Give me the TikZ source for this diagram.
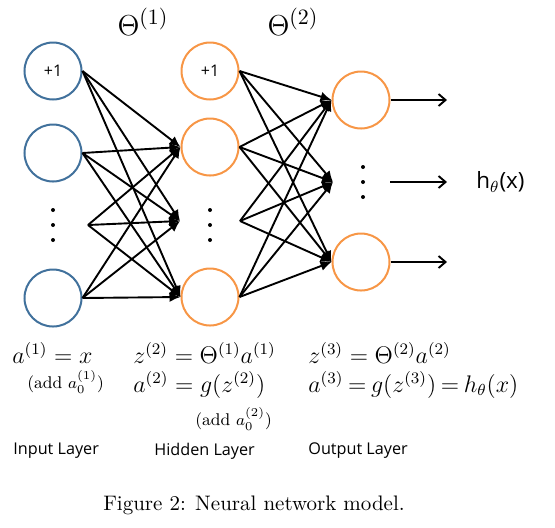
\documentclass[tikz,border=0pt]{standalone}
\usepackage{fontspec}
\newfontfamily\labfont{Open Sans}
\usetikzlibrary{arrows.meta}
\definecolor{inblue}{RGB}{65,113,156}
\definecolor{hidorange}{RGB}{247,150,70}
\tikzset{
  neuron/.style={circle,draw,line width=1pt,minimum size=28.5pt,inner sep=0pt,font=\labfont\fontsize{8}{9}\selectfont},
  inneuron/.style={neuron,draw=inblue},
  hidneuron/.style={neuron,draw=hidorange},
  wedge/.style={line width=0.95pt,-{Latex[length=5.5pt,width=5pt]}},
  outarrow/.style={line width=0.95pt,-{Straight Barb[length=3.5pt,width=6pt]}},
  dotmark/.style={fill=black},
  eqn/.style={anchor=west,inner sep=0pt,font=\fontsize{11.7}{14}\selectfont},
  small/.style={anchor=west,inner sep=0pt,font=\fontsize{8.5}{10}\selectfont},
  layerlab/.style={anchor=west,inner sep=0pt,font=\labfont\fontsize{8.1}{10}\selectfont},
  thetalab/.style={inner sep=0pt,font=\fontsize{15}{18}\selectfont}
}
\begin{document}
\begin{tikzpicture}[x=0.5pt,y=-0.5pt]
\useasboundingbox (0,0) rectangle (555,527);
% input layer
\node[inneuron] (in1) at (53,71) {+1};
\node[inneuron] (in2) at (53,153) {};
\node[inneuron] (in3) at (53,298) {};
\coordinate (indots) at (88,225);
\foreach \y in {210,225,240} \fill[dotmark] (53,\y) circle (2);
% hidden layer
\node[hidneuron] (h1) at (210,71) {+1};
\node[hidneuron] (h2) at (210,147) {};
\node[hidneuron] (h3) at (210,297) {};
\coordinate (hdotsL) at (180,221);
\coordinate (hdotsR) at (240,221);
\foreach \y in {210,225,240} \fill[dotmark] (210,\y) circle (2);
% output layer
\node[hidneuron] (o1) at (361,100) {};
\node[hidneuron] (o3) at (361,262) {};
\coordinate (odotsL) at (333,182);
\foreach \y in {167,182,197} \fill[dotmark] (363,\y) circle (2);
% layer 1 connections
\foreach \s in {in1.east,in2.east,indots,in3.east}
  \foreach \t in {h2.west,hdotsL,h3.west}
    \draw[wedge] (\s) -- (\t);
% layer 2 connections
\foreach \s in {h1.east,h2.east,hdotsR,h3.east}
  \foreach \t in {o1.west,odotsL,o3.west}
    \draw[wedge] (\s) -- (\t);
% outputs
\coordinate (e1) at (447,100);
\coordinate (e3) at (447,262);
\coordinate (edS) at (390,182);
\coordinate (edE) at (447,182);
\draw[outarrow] (o1.east) -- (e1);
\draw[outarrow] (o3.east) -- (e3);
\draw[outarrow] (edS) -- (edE);
\node[anchor=west,inner sep=0pt,font=\labfont\fontsize{11.2}{13}\selectfont] (hx) at (476,182) {h$_\theta$(x)};
% theta labels
\node[thetalab] (th1) at (143,22) {$\Theta^{(1)}$};
\node[thetalab] (th2) at (293,22) {$\Theta^{(2)}$};
% equations
\node[eqn] (eq1) at (12,353) {$a^{(1)} = x$};
\node[small] (add1) at (27,382) {(add $a_0^{(1)}$)};
\node[eqn] (eq2) at (133,353) {$z^{(2)} = \Theta^{(1)}a^{(1)}$};
\node[eqn] (eq3) at (133,385) {$a^{(2)} = g(z^{(2)})$};
\node[small] (add2) at (195,419) {(add $a_0^{(2)}$)};
\node[eqn] (eq4) at (308,353) {$z^{(3)} = \Theta^{(2)}a^{(2)}$};
\node[eqn] (eq5) at (308,385) {$\thickmuskip=3.5mu a^{(3)} = g(z^{(3)}) = h_\theta(x)$};
% layer labels
\node[layerlab] (l1) at (13,451) {Input Layer};
\node[layerlab] (l2) at (154,451) {Hidden Layer};
\node[layerlab] (l3) at (308,451) {Output Layer};
% caption
\node[inner sep=0pt,font=\fontsize{10.5}{12}\selectfont] (cap) at (254,505) {Figure 2: Neural network model.};
\end{tikzpicture}
\end{document}
